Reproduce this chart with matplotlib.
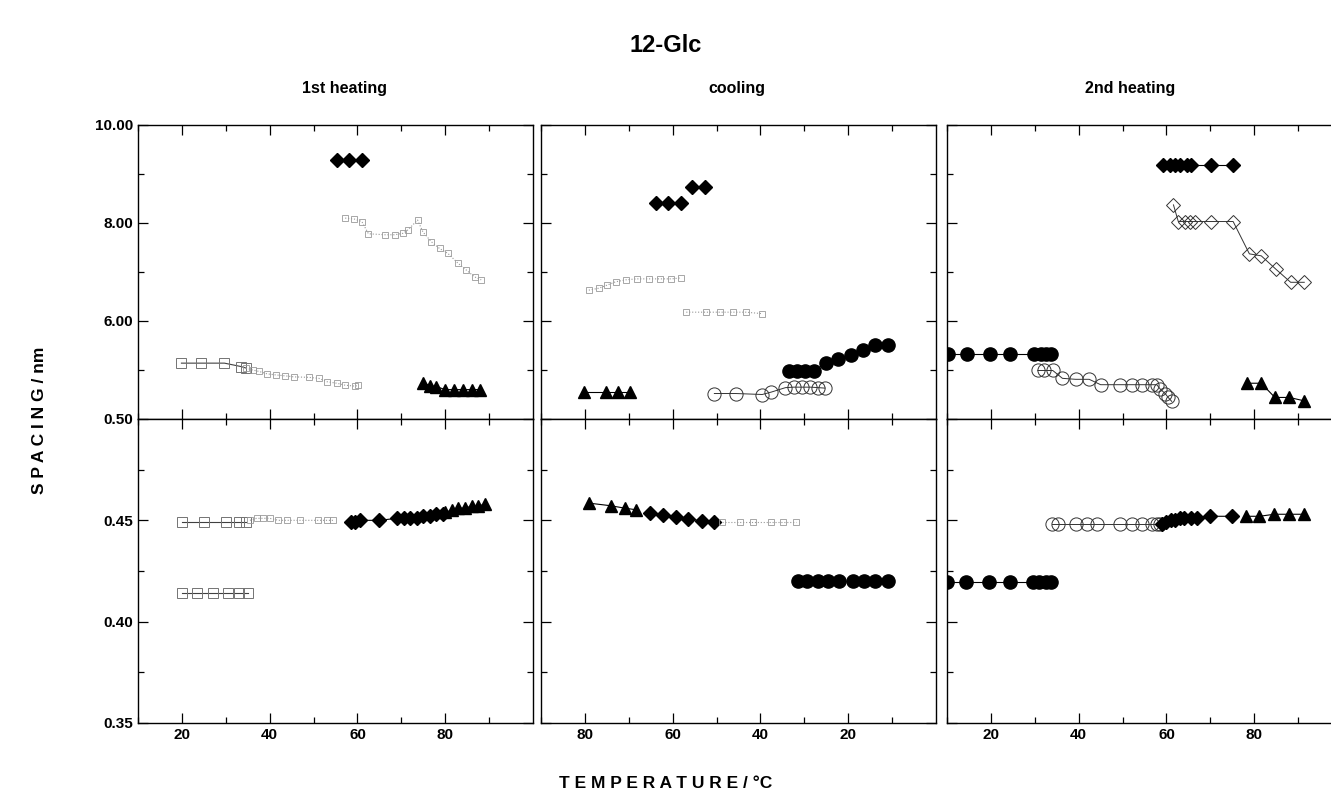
import matplotlib
matplotlib.use("Agg")
import matplotlib.pyplot as plt

plt.rcParams['font.family'] = ['Liberation Sans', 'DejaVu Sans']
plt.rcParams['font.weight'] = 'bold'

W, H = 1331, 806

# ---------------- 1st heating ----------------
# long spacings (nm)
h1_fdiam_T = [55.3, 58.1, 61.0]
h1_fdiam_d = [9.29, 9.29, 9.29]
h1_dot_T = [57.2, 59.3, 61.0, 62.5, 66.3, 68.5, 70.4, 71.5, 73.7, 74.9, 76.8, 78.7, 80.6, 82.9, 84.8, 86.7, 88.2]
h1_dot_d = [8.10, 8.08, 8.03, 7.78, 7.76, 7.76, 7.79, 7.86, 8.06, 7.82, 7.62, 7.48, 7.38, 7.18, 7.04, 6.90, 6.84]
h1_sq_T = [19.9, 24.4, 29.7, 33.5, 34.6]
h1_sq_d = [5.14, 5.14, 5.14, 5.07, 5.04]
h1_oc_T = [34.6, 36.1, 37.6, 39.5, 41.4, 43.6, 45.5, 48.9, 51.2, 53.1, 55.3, 57.2, 59.5, 60.2]
h1_oc_d = [5.04, 5.00, 4.97, 4.92, 4.90, 4.88, 4.86, 4.85, 4.83, 4.76, 4.73, 4.69, 4.67, 4.69]
h1_ftri_T = [75.0, 76.5, 78.0, 80.0, 82.0, 84.0, 86.0, 88.0]
h1_ftri_d = [4.74, 4.68, 4.66, 4.60, 4.60, 4.60, 4.60, 4.60]
# short spacings (nm)
h1_sq1_T = [20.0, 25.0, 30.0, 33.0, 34.5]
h1_sq1_s = [0.449, 0.449, 0.449, 0.449, 0.449]
h1_sq2_T = [20.0, 23.5, 27.0, 30.5, 33.0, 35.0]
h1_sq2_s = [0.414, 0.414, 0.414, 0.414, 0.414, 0.414]
h1_soc_T = [35.5, 37.0, 38.5, 40.0, 42.0, 44.0, 47.0, 51.0, 53.0, 54.5]
h1_soc_s = [0.450, 0.451, 0.451, 0.451, 0.450, 0.450, 0.450, 0.450, 0.450, 0.450]
h1_sfd_T = [58.5, 59.5, 60.5, 65.0, 69.0, 70.5, 72.0, 73.5, 75.0, 76.5, 78.0, 79.5]
h1_sfd_s = [0.449, 0.449, 0.450, 0.450, 0.451, 0.451, 0.451, 0.451, 0.452, 0.452, 0.453, 0.453]
h1_sft_T = [80.0, 81.5, 83.0, 84.5, 86.0, 87.5, 89.0]
h1_sft_s = [0.454, 0.455, 0.456, 0.456, 0.457, 0.457, 0.458]

# ---------------- cooling ----------------
c_ftri_T = [80.2, 75.3, 72.5, 69.7]
c_ftri_d = [4.56, 4.56, 4.56, 4.56]
c_fdiam_T = [63.8, 61.0, 58.2, 55.5, 52.7]
c_fdiam_d = [8.40, 8.40, 8.40, 8.73, 8.73]
c_dot1_T = [79.1, 76.8, 75.0, 73.0, 70.7, 68.2, 65.5, 62.8, 60.3, 58.1]
c_dot1_d = [6.63, 6.67, 6.73, 6.80, 6.84, 6.86, 6.86, 6.86, 6.86, 6.88]
c_dot2_T = [56.9, 52.4, 49.3, 46.3, 43.3, 39.6]
c_dot2_d = [6.18, 6.18, 6.18, 6.18, 6.18, 6.15]
c_oc_T = [50.5, 45.6, 39.6, 37.5, 34.3, 32.4, 30.5, 28.6, 26.8, 25.3]
c_oc_d = [4.52, 4.52, 4.50, 4.55, 4.64, 4.65, 4.65, 4.65, 4.64, 4.63]
c_fc_T = [33.5, 31.7, 29.9, 27.9, 25.1, 22.3, 19.4, 16.6, 13.8, 11.0]
c_fc_d = [4.97, 4.97, 4.97, 4.97, 5.15, 5.22, 5.31, 5.41, 5.52, 5.52]
c_sft_T = [79.1, 74.1, 70.9, 68.3]
c_sft_s = [0.4585, 0.4572, 0.4560, 0.4552]
c_sfd_T = [65.1, 62.2, 59.3, 56.4, 53.4, 50.5]
c_sfd_s = [0.4535, 0.4527, 0.4515, 0.4505, 0.4499, 0.4490]
c_soc_T = [48.8, 44.7, 41.8, 37.7, 34.8, 31.9]
c_soc_s = [0.449, 0.449, 0.449, 0.449, 0.449, 0.449]
c_sfc_T = [31.5, 29.5, 27.0, 24.5, 22.0, 19.0, 16.5, 14.0, 11.0]
c_sfc_s = [0.420, 0.420, 0.420, 0.420, 0.420, 0.420, 0.420, 0.420, 0.420]

# ---------------- 2nd heating ----------------
h2_fdiam_T = [59.3, 60.8, 61.9, 63.1, 64.6, 65.7, 70.2, 75.2]
h2_fdiam_d = [9.18, 9.18, 9.18, 9.18, 9.18, 9.18, 9.18, 9.18]
h2_odiam_T = [61.6, 62.7, 64.2, 65.4, 66.5, 70.2, 75.2, 78.9, 81.6, 84.9, 88.3, 91.4]
h2_odiam_d = [8.37, 8.03, 8.03, 8.03, 8.03, 8.03, 8.03, 7.37, 7.33, 7.06, 6.79, 6.79]
h2_fc_T = [10.3, 14.6, 19.7, 24.4, 29.9, 31.4, 32.6, 33.7]
h2_fc_d = [5.33, 5.33, 5.33, 5.33, 5.33, 5.33, 5.33, 5.33]
h2_oc_T = [30.7, 32.2, 34.1, 36.3, 39.3, 42.4, 45.0, 49.5, 52.2, 54.4, 56.7, 57.8, 58.6, 59.7, 60.4, 61.2]
h2_oc_d = [4.99, 4.99, 4.99, 4.83, 4.81, 4.81, 4.70, 4.70, 4.70, 4.70, 4.70, 4.70, 4.61, 4.52, 4.44, 4.36]
h2_ftri_T = [78.4, 81.6, 84.7, 88.0, 91.4]
h2_ftri_d = [4.73, 4.73, 4.44, 4.44, 4.37]
h2_sfc_T = [9.9, 14.3, 19.6, 24.3, 29.5, 31.0, 32.6, 33.7]
h2_sfc_s = [0.4195, 0.4195, 0.4195, 0.4195, 0.4195, 0.4195, 0.4195, 0.4195]
h2_soc_T = [33.9, 35.2, 39.3, 42.0, 44.2, 49.5, 52.2, 54.4, 56.7, 57.8, 58.6]
h2_soc_s = [0.448, 0.448, 0.448, 0.448, 0.448, 0.448, 0.448, 0.448, 0.448, 0.448, 0.448]
h2_sfd_T = [59.0, 60.0, 61.0, 62.0, 63.0, 64.0, 65.5, 67.0, 70.0, 75.0]
h2_sfd_s = [0.448, 0.449, 0.450, 0.450, 0.451, 0.451, 0.451, 0.451, 0.452, 0.452]
h2_sft_T = [78.2, 81.2, 84.6, 88.0, 91.4]
h2_sft_s = [0.452, 0.452, 0.453, 0.453, 0.453]

STYLES = {
    'fd': dict(marker='D', ms=7.5, mfc='black', mec='black', color='black', lw=0.8),
    'ft': dict(marker='^', ms=8, mfc='black', mec='black', color='black', lw=0.8),
    'fc': dict(marker='o', ms=9.5, mfc='black', mec='black', color='black', lw=0.8),
    'oc': dict(marker='o', ms=9.5, mfc='none', mec='0.2', mew=0.7, color='0.2', lw=0.7),
    'od': dict(marker='D', ms=7.5, mfc='none', mec='0.2', mew=0.7, color='0.2', lw=0.7),
    'os': dict(marker='s', ms=7.5, mfc='none', mec='0.45', mew=0.7, color='0.25', lw=0.8),
    'dot': dict(marker='s', ms=5, mfc='none', mec='0.6', mew=0.6, color='0.6', lw=0.8, ls=':'),
}


def series(ax, x, y, kind):
    ax.plot(x, y, **STYLES[kind])


def make_ax(x0, x1, y0, y1):
    return fig.add_axes([x0 / W, 1 - y1 / H, (x1 - x0) / W, (y1 - y0) / H])


fig = plt.figure(figsize=(W / 100, H / 100), dpi=100)

cols = [(138, 533), (541, 936), (947, 1342)]
rows = [(125, 419), (419, 723)]
xlims = [(10, 100), (89, 0), (10, 100)]

axes = [[make_ax(c[0], c[1], r[0], r[1]) for c in cols] for r in rows]

for i in range(2):
    for j in range(3):
        ax = axes[i][j]
        ax.set_xlim(*xlims[j])
        ax.set_xticks([20, 40, 60, 80])
        ax.set_xticks([10, 30, 50, 70, 90], minor=True)
        if i == 0:
            ax.set_ylim(4, 10)
            ax.set_yticks([6, 8, 10])
            ax.set_yticks([5, 7, 9], minor=True)
            ax.set_yticklabels(['6.00', '8.00', '10.00'])
        else:
            ax.set_ylim(0.35, 0.50)
            ax.set_yticks([0.35, 0.40, 0.45, 0.50])
            ax.set_yticks([0.375, 0.425, 0.475], minor=True)
            ax.set_yticklabels(['0.35', '0.40', '0.45', '0.50'])
        ax.tick_params(which='both', direction='in', top=True, right=True,
                       labelsize=11, width=0.9)
        ax.tick_params(which='major', length=7)
        ax.tick_params(which='minor', length=4)
        if i == 0:
            ax.tick_params(labelbottom=False)
        if j != 0:
            ax.tick_params(labelleft=False)
        for sp in ax.spines.values():
            sp.set_linewidth(1.0)
        for lab in ax.get_xticklabels() + ax.get_yticklabels():
            lab.set_fontweight('bold')

# 1st heating
a, b = axes[0][0], axes[1][0]
series(a, h1_fdiam_T, h1_fdiam_d, 'fd')
series(a, h1_dot_T, h1_dot_d, 'dot')
series(a, h1_sq_T, h1_sq_d, 'os')
series(a, h1_oc_T, h1_oc_d, 'dot')
series(a, h1_ftri_T, h1_ftri_d, 'ft')
series(b, h1_sq1_T, h1_sq1_s, 'os')
series(b, h1_sq2_T, h1_sq2_s, 'os')
series(b, h1_soc_T, h1_soc_s, 'dot')
series(b, h1_sfd_T, h1_sfd_s, 'fd')
series(b, h1_sft_T, h1_sft_s, 'ft')

# cooling
a, b = axes[0][1], axes[1][1]
series(a, c_ftri_T, c_ftri_d, 'ft')
series(a, c_fdiam_T[:3], c_fdiam_d[:3], 'fd')
series(a, c_fdiam_T[3:], c_fdiam_d[3:], 'fd')
series(a, c_dot1_T, c_dot1_d, 'dot')
series(a, c_dot2_T, c_dot2_d, 'dot')
series(a, c_oc_T, c_oc_d, 'oc')
series(a, c_fc_T, c_fc_d, 'fc')
series(b, c_sft_T, c_sft_s, 'ft')
series(b, c_sfd_T, c_sfd_s, 'fd')
series(b, c_soc_T, c_soc_s, 'dot')
series(b, c_sfc_T, c_sfc_s, 'fc')

# 2nd heating
a, b = axes[0][2], axes[1][2]
series(a, h2_fdiam_T, h2_fdiam_d, 'fd')
series(a, h2_odiam_T, h2_odiam_d, 'od')
series(a, h2_fc_T, h2_fc_d, 'fc')
series(a, h2_oc_T, h2_oc_d, 'oc')
series(a, h2_ftri_T, h2_ftri_d, 'ft')
series(b, h2_sfc_T, h2_sfc_s, 'fc')
series(b, h2_soc_T, h2_soc_s, 'oc')
series(b, h2_sfd_T, h2_sfd_s, 'fd')
series(b, h2_sft_T, h2_sft_s, 'ft')

fig.text(0.5, 1 - 45 / H, '12-Glc', ha='center', va='center', fontsize=17, fontweight='bold')
for xc, t in zip([345, 737, 1130], ['1st heating', 'cooling', '2nd heating']):
    fig.text(xc / W, 1 - 88 / H, t, ha='center', va='center', fontsize=11.5, fontweight='bold')
fig.text(40 / W, 1 - 420 / H, 'S P A C I N G / nm', rotation=90, ha='center', va='center',
         fontsize=12.5, fontweight='bold')
fig.text(0.5, 1 - 783 / H, 'T E M P E R A T U R E / °C', ha='center', va='center',
         fontsize=12.5, fontweight='bold')

fig.savefig('out.png', dpi=100)
